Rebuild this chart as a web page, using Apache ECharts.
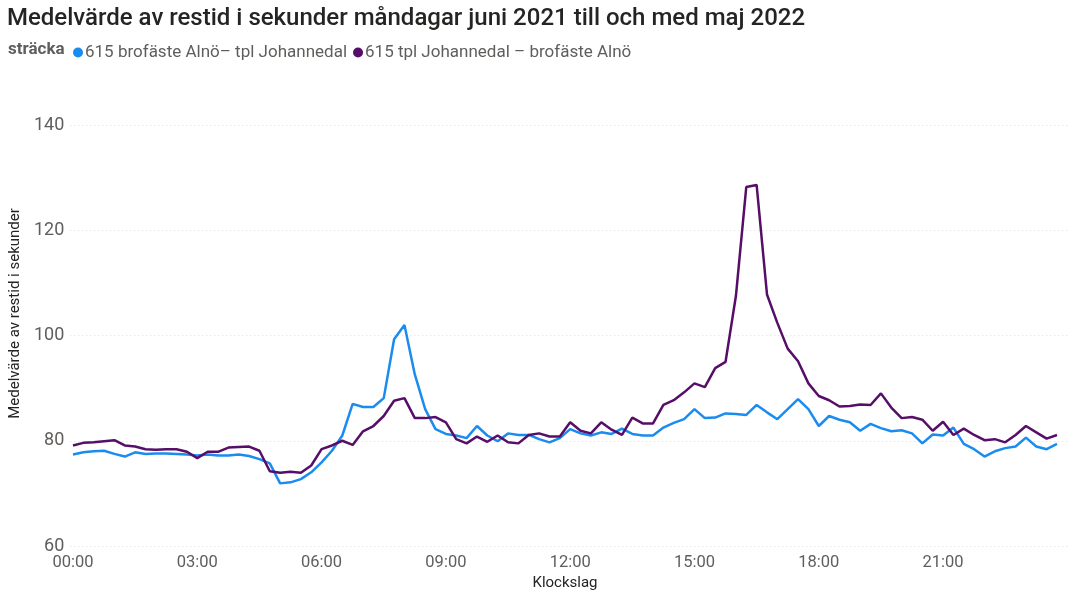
<!DOCTYPE html>
<html>
<head>
<meta charset="utf-8">
<script src="https://cdn.jsdelivr.net/npm/echarts@6/dist/echarts.min.js"></script>
<style>
  html, body { margin: 0; padding: 0; background: #fff; }
  #main { width: 1082px; height: 600px; }
</style>
</head>
<body>
<div id="main"></div>
<script>
// time of day, one point every 15 minutes
var times = [
  '00:00','00:15','00:30','00:45','01:00','01:15','01:30','01:45',
  '02:00','02:15','02:30','02:45','03:00','03:15','03:30','03:45',
  '04:00','04:15','04:30','04:45','05:00','05:15','05:30','05:45',
  '06:00','06:15','06:30','06:45','07:00','07:15','07:30','07:45',
  '08:00','08:15','08:30','08:45','09:00','09:15','09:30','09:45',
  '10:00','10:15','10:30','10:45','11:00','11:15','11:30','11:45',
  '12:00','12:15','12:30','12:45','13:00','13:15','13:30','13:45',
  '14:00','14:15','14:30','14:45','15:00','15:15','15:30','15:45',
  '16:00','16:15','16:30','16:45','17:00','17:15','17:30','17:45',
  '18:00','18:15','18:30','18:45','19:00','19:15','19:30','19:45',
  '20:00','20:15','20:30','20:45','21:00','21:15','21:30','21:45',
  '22:00','22:15','22:30','22:45','23:00','23:15','23:30','23:45'
];

var seriesNames = ['615 brofäste Alnö– tpl Johannedal', '615 tpl Johannedal – brofäste Alnö'];

// Alnö -> Johannedal
var alnoToJohannedal = [
  77.4, 77.8, 78.0, 78.1, 77.5, 77.0, 77.8, 77.5,
  77.6, 77.6, 77.5, 77.4, 77.2, 77.4, 77.2, 77.2,
  77.4, 77.1, 76.5, 75.7, 71.9, 72.1, 72.7, 74.0,
  75.9, 78.1, 81.0, 87.0, 86.4, 86.4, 88.1, 99.3,
  102.0, 92.6, 86.0, 82.2, 81.3, 81.0, 80.5, 82.8,
  81.0, 79.9, 81.4, 81.1, 81.1, 80.3, 79.7, 80.5,
  82.2, 81.4, 81.0, 81.6, 81.3, 82.3, 81.3, 81.0,
  81.0, 82.5, 83.4, 84.1, 86.0, 84.3, 84.4, 85.2,
  85.1, 84.9, 86.8, 85.4, 84.1, 86.0, 87.9, 86.0,
  82.8, 84.7, 84.0, 83.5, 81.9, 83.2, 82.4, 81.8,
  82.0, 81.4, 79.5, 81.2, 81.0, 82.5, 79.4, 78.4,
  77.0, 78.0, 78.6, 78.9, 80.6, 78.9, 78.4, 79.4
];

// Johannedal -> Alnö
var johannedalToAlno = [
  79.1, 79.6, 79.7, 79.9, 80.1, 79.1, 78.9, 78.4,
  78.3, 78.4, 78.4, 77.9, 76.7, 77.9, 77.9, 78.7,
  78.8, 78.9, 78.1, 74.2, 73.9, 74.1, 73.9, 75.3,
  78.4, 79.1, 80.0, 79.2, 81.8, 82.8, 84.7, 87.6,
  88.1, 84.3, 84.3, 84.5, 83.5, 80.3, 79.5, 80.8,
  79.8, 81.0, 79.7, 79.5, 81.1, 81.4, 80.8, 80.8,
  83.5, 81.9, 81.4, 83.5, 82.1, 81.1, 84.4, 83.3,
  83.3, 86.8, 87.7, 89.2, 90.9, 90.2, 93.8, 95.0,
  107.5, 128.2, 128.6, 107.8, 102.4, 97.5, 95.1, 90.9,
  88.5, 87.7, 86.5, 86.6, 86.9, 86.8, 89.0, 86.3,
  84.3, 84.5, 84.0, 81.9, 83.6, 81.1, 82.3, 81.1,
  80.1, 80.3, 79.7, 81.1, 82.8, 81.6, 80.4, 81.1
];

var yMin = 60, yMax = 140, yStep = 20;

var myChart = echarts.init(document.getElementById('main'));
var font = 'Roboto, "Noto Sans", sans-serif';

myChart.setOption({
    backgroundColor: '#fff',
    animation: false,
    title: [{
        text: 'Medelvärde av restid i sekunder måndagar juni 2021 till och med maj 2022',
        left: 2,
        top: 2,
        textStyle: { fontFamily: font, fontSize: 24, fontWeight: 500, color: '#252423' }
    }, {
        text: 'sträcka',
        left: 3,
        top: 36,
        textStyle: { fontFamily: font, fontSize: 17, fontWeight: 'bold', color: '#605E5C' }
    }],
    legend: {
        left: 68,
        top: 39,
        icon: 'circle',
        itemWidth: 10,
        itemHeight: 10,
        itemGap: 6,
        textStyle: { fontFamily: font, fontSize: 17, color: '#605E5C', padding: [0, 0, 0, -3] },
        data: seriesNames
    },
    grid: [
        { left: 62, right: 14, top: 125, bottom: 54 },   // gridlines + y labels
        { left: 73, right: 25, top: 125, bottom: 54 }    // data
    ],
    xAxis: [{
        gridIndex: 0, type: 'value', min: 0, max: 1, show: false
    }, {
        gridIndex: 1,
        type: 'category',
        boundaryGap: false,
        data: times,
        axisLine: { show: false },
        axisTick: { show: false },
        axisLabel: { interval: 11, margin: 8, fontFamily: font, fontSize: 16.5, color: '#605E5C' },
        name: 'Klockslag',
        nameLocation: 'middle',
        nameGap: 30,
        nameTextStyle: { fontFamily: font, fontSize: 15, color: '#252423' }
    }],
    yAxis: [{
        gridIndex: 0,
        type: 'value',
        min: yMin, max: yMax, interval: yStep,
        axisLine: { show: false },
        axisTick: { show: false },
        axisLabel: { margin: 6, fontFamily: font, fontSize: 18, color: '#605E5C' },
        splitLine: { lineStyle: { color: '#dcdcdc', type: [1, 3], width: 1 } },
        name: 'Medelvärde av restid i sekunder',
        nameLocation: 'middle',
        nameGap: 41,
        nameTextStyle: { fontFamily: font, fontSize: 15, color: '#252423', padding: [0, 0, 0, 44] }
    }, {
        gridIndex: 1, type: 'value', min: yMin, max: yMax, interval: yStep, show: false,
        splitLine: { show: false }
    }],
    series: [{
        name: seriesNames[0],
        type: 'line',
        xAxisIndex: 1, yAxisIndex: 1,
        showSymbol: false,
        color: '#1A8CF0',
        lineStyle: { width: 2.5 },
        data: alnoToJohannedal
    }, {
        name: seriesNames[1],
        type: 'line',
        xAxisIndex: 1, yAxisIndex: 1,
        showSymbol: false,
        color: '#560E68',
        lineStyle: { width: 2.5 },
        data: johannedalToAlno
    }]
});
</script>
</body>
</html>
